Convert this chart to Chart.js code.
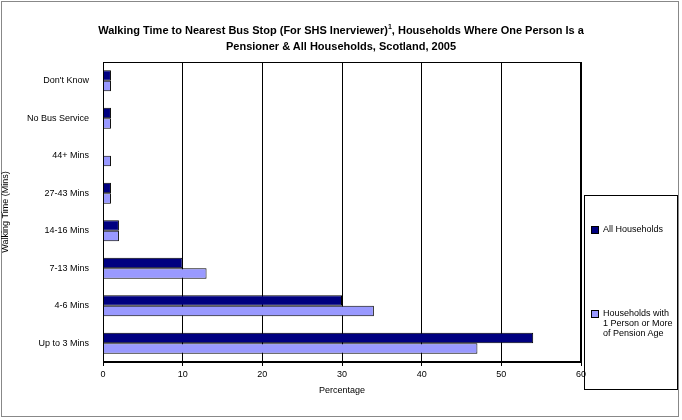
<!DOCTYPE html>
<html><head><meta charset="utf-8">
<script src="https://cdn.jsdelivr.net/npm/chart.js@4"></script>
<style>
body{margin:0;background:#fff;font-family:"Liberation Sans",Arial,sans-serif;}
#wrap{position:relative;width:682px;height:420px;}
#frame{position:absolute;left:1px;top:1px;width:678px;height:416px;border:1px solid #888;box-sizing:border-box;}
#title{position:absolute;left:0;top:19px;width:682px;text-align:center;font-weight:bold;font-size:11px;line-height:16px;}
#title sup{font-size:7px;}
#legend{position:absolute;left:584px;top:195px;width:94px;height:195px;border:1px solid #000;box-sizing:border-box;font-size:9px;}
.li{position:absolute;left:6px;display:flex;align-items:flex-start;}
.sw{width:6px;height:6px;border:1px solid #000;margin-right:4px;margin-top:2px;flex:none;}
canvas{position:absolute;left:0;top:0;}
</style></head><body>
<div id="wrap">
<div id="frame"></div>
<canvas id="c" width="682" height="420"></canvas>
<div id="title">Walking Time to Nearest Bus Stop (For SHS Inerviewer)<sup>1</sup>, Households Where One Person Is a<br>Pensioner &amp; All Households, Scotland, 2005</div>
<div id="legend">
<div class="li" style="top:28px"><div class="sw" style="background:#000080"></div><span>All Households</span></div>
<div class="li" style="top:112px"><div class="sw" style="background:#9999ff"></div><span>Households with<br>1 Person or More<br>of Pension Age</span></div>
</div>
</div>
<script>
const categories=["Don't Know","No Bus Service","44+ Mins","27-43 Mins","14-16 Mins","7-13 Mins","4-6 Mins","Up to 3 Mins"];
const allHouseholds=[1,1,0,1,2,10,30,54];
const pensionHouseholds=[1,1,1,1,2,13,34,47];
const xTicks=[0,10,20,30,40,50,60];
new Chart(document.getElementById('c'),{
type:'bar',
data:{labels:categories,datasets:[
{label:'All Households',data:allHouseholds,backgroundColor:'#000080',borderColor:'#000',borderWidth:1,categoryPercentage:0.56,barPercentage:1},
{label:'Households with 1 Person or More of Pension Age',data:pensionHouseholds,backgroundColor:'#9999ff',borderColor:'#000',borderWidth:1,categoryPercentage:0.56,barPercentage:1}]},
options:{indexAxis:'y',responsive:false,animation:false,
layout:{padding:{top:62,right:101,bottom:20,left:0}},
plugins:{legend:{display:false},tooltip:{enabled:false}},
scales:{
x:{min:0,max:60,afterBuildTicks:s=>{s.ticks=xTicks.map(v=>({value:v}));},
afterFit:s=>{s.height=38;},
grid:{color:'#000',drawTicks:true,tickLength:4},border:{color:'#000'},
ticks:{color:'#000',font:{family:'Liberation Sans',size:9}},
title:{display:true,text:'Percentage',color:'#000',font:{family:'Liberation Sans',size:9}}},
y:{afterFit:s=>{s.width=103;},grid:{display:false},border:{color:'#000'},
ticks:{color:'#000',padding:6,font:{family:'Liberation Sans',size:9}},
title:{display:true,text:'Walking Time (Mins)',color:'#000',padding:{top:0,bottom:0},font:{family:'Liberation Sans',size:9}}}}},
plugins:[{id:'box',afterDraw(ch){const a=ch.chartArea,c=ch.ctx;c.save();c.strokeStyle='#000';c.lineWidth=1;c.strokeRect(a.left+.5,a.top+.5,a.width-1,a.height-1);c.restore();}}]
});
</script></body></html>
